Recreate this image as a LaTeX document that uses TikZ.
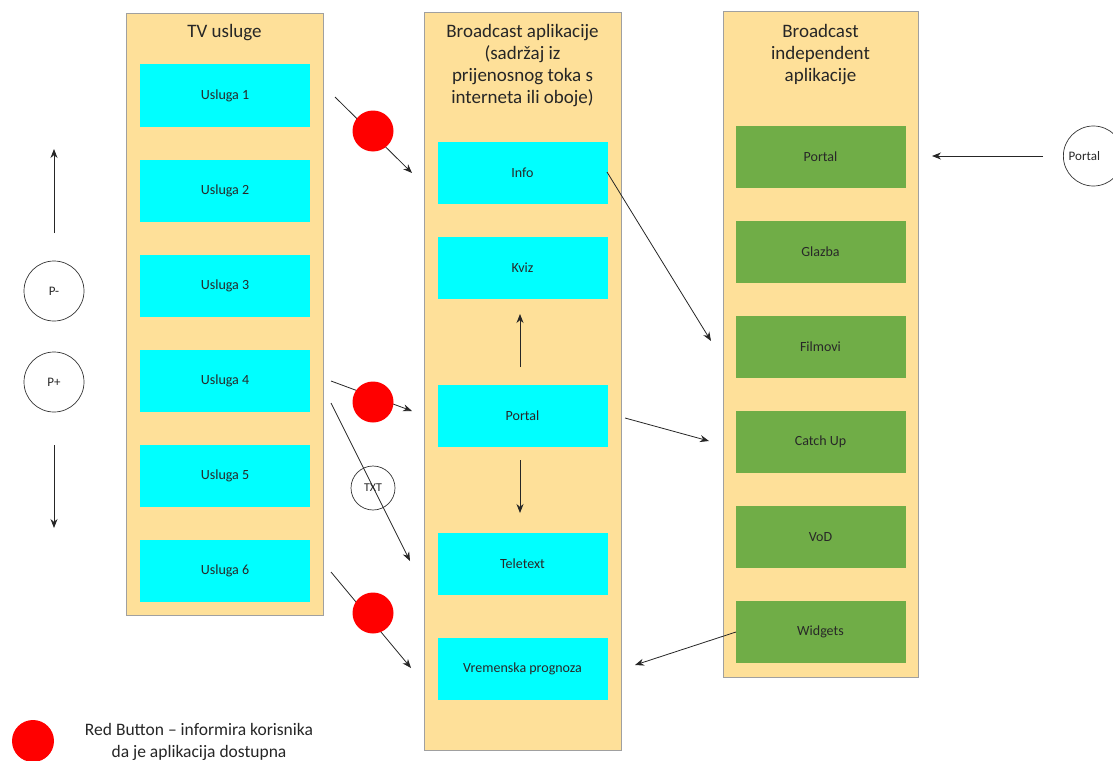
\documentclass[tikz,border=0pt]{standalone}
\usepackage{fontspec}
\setmainfont{Carlito}
\usetikzlibrary{arrows.meta}
\definecolor{panelfill}{RGB}{254,224,153}
\definecolor{panelline}{RGB}{160,160,160}
\definecolor{cyanbox}{RGB}{0,255,255}
\definecolor{greenbox}{RGB}{112,173,71}
\definecolor{redbtn}{RGB}{255,0,0}
\definecolor{txtc}{RGB}{40,40,40}
\begin{document}
\begin{tikzpicture}[x=1pt,y=-1pt,
  panel/.style={draw=panelline,line width=0.8pt,fill=panelfill,inner sep=0pt},
  cbox/.style={fill=cyanbox,minimum width=170pt,minimum height=62pt,inner sep=0pt,font=\fontsize{14}{16}\selectfont,text=txtc},
  gbox/.style={fill=greenbox,minimum width=170pt,minimum height=62pt,inner sep=0pt,font=\fontsize{14}{16}\selectfont,text=txtc},
  head/.style={align=center,font=\fontsize{19}{22}\selectfont,text=black!85},
  conn/.style={draw=black!85,line width=0.8pt,-{Stealth[length=9pt,width=7pt]}},
  rdot/.style={circle,fill=redbtn,minimum size=41pt,inner sep=0pt},
  ocirc/.style={circle,draw=black!80,line width=0.7pt,inner sep=0pt,font=\fontsize{13}{15}\selectfont,text=txtc}]
\useasboundingbox (0,0) rectangle (1113,760);
% panels
\node[panel,minimum width=197pt,minimum height=602pt] (pL) at (224.5,314) {};
\node[panel,minimum width=197pt,minimum height=738pt] (pM) at (522.5,381) {};
\node[panel,minimum width=195pt,minimum height=666pt] (pR) at (820.5,344) {};
% headers
\node[head] (hL) at (224.5,33) {TV usluge};
\node[head,anchor=north] (hM) at (522.5,21) {Broadcast aplikacije\\(sadržaj iz\\prijenosnog toka s\\interneta ili oboje)};
\node[head,anchor=north] (hR) at (820.5,21) {Broadcast\\independent\\aplikacije};
% left boxes
\node[cbox] (u1) at (225,95.5) {Usluga 1};
\node[cbox] (u2) at (225,190.5) {Usluga 2};
\node[cbox] (u3) at (225,285.5) {Usluga 3};
\node[cbox] (u4) at (225,380.5) {Usluga 4};
\node[cbox] (u5) at (225,475.5) {Usluga 5};
\node[cbox] (u6) at (225,570.5) {Usluga 6};
% middle boxes
\node[cbox] (info) at (522.5,173) {Info};
\node[cbox] (kviz) at (522.5,268) {Kviz};
\node[cbox] (mportal) at (522.5,415.5) {Portal};
\node[cbox] (tele) at (522.5,564) {Teletext};
\node[cbox] (vrem) at (522.5,669) {Vremenska prognoza};
% right boxes
\node[gbox] (rportal) at (820.5,157) {Portal};
\node[gbox] (glazba) at (820.5,252) {Glazba};
\node[gbox] (filmovi) at (820.5,347) {Filmovi};
\node[gbox] (catch) at (820.5,442) {Catch Up};
\node[gbox] (vod) at (820.5,537) {VoD};
\node[gbox] (widgets) at (820.5,632) {Widgets};
% side circles
\node[ocirc,minimum size=60pt] (pminus) at (54,291) {P-};
\node[ocirc,minimum size=60pt] (pplus) at (54,382) {P+};
\node[ocirc,minimum size=44pt,font=\fontsize{12}{14}\selectfont] (txt) at (373,488) {TXT};
\node[ocirc,minimum size=60pt,anchor=west] (cportal) at (1063,156) {\hspace*{-18pt}Portal};
% coordinates for free ends
\coordinate (upS) at (54,233); \coordinate (upE) at (54,149);
\coordinate (dnS) at (54,445); \coordinate (dnE) at (54,528);
\coordinate (a1s) at (335,97); \coordinate (a1e) at (412,173);
\coordinate (a2s) at (331,381); \coordinate (a2e) at (412,411);
\coordinate (a3s) at (331,403); \coordinate (a3e) at (410,561);
\coordinate (a4s) at (331,572); \coordinate (a4e) at (411,668);
\coordinate (b1s) at (607,172); \coordinate (b1e) at (711,341);
\coordinate (b2s) at (625,418); \coordinate (b2e) at (709,441);
\coordinate (c1s) at (736,632); \coordinate (c1e) at (635,665);
\coordinate (m1s) at (520,367); \coordinate (m1e) at (520,314);
\coordinate (m2s) at (520,460); \coordinate (m2e) at (520,513);
\coordinate (p1s) at (1043,156); \coordinate (p1e) at (932,156);
% connectors
\draw[conn] (upS) -- (upE);
\draw[conn] (dnS) -- (dnE);
\draw[conn] (a1s) -- (a1e);
\draw[conn] (a2s) -- (a2e);
\draw[conn] (a3s) -- (a3e);
\draw[conn] (a4s) -- (a4e);
\draw[conn] (b1s) -- (b1e);
\draw[conn] (b2s) -- (b2e);
\draw[conn] (c1s) -- (c1e);
\draw[conn] (m1s) -- (m1e);
\draw[conn] (m2s) -- (m2e);
\draw[conn] (p1s) -- (p1e);
% red buttons
\node[rdot] (r1) at (373,131) {};
\node[rdot] (r2) at (373,402) {};
\node[rdot] (r3) at (373,613) {};
% legend
\node[rdot,minimum size=42pt] (rleg) at (33,741) {};
\node[align=center,font=\fontsize{17.5}{22}\selectfont,text=black!85] (leg) at (199,742) {Red Button -- informira korisnika\\da je aplikacija dostupna};
\end{tikzpicture}
\end{document}
